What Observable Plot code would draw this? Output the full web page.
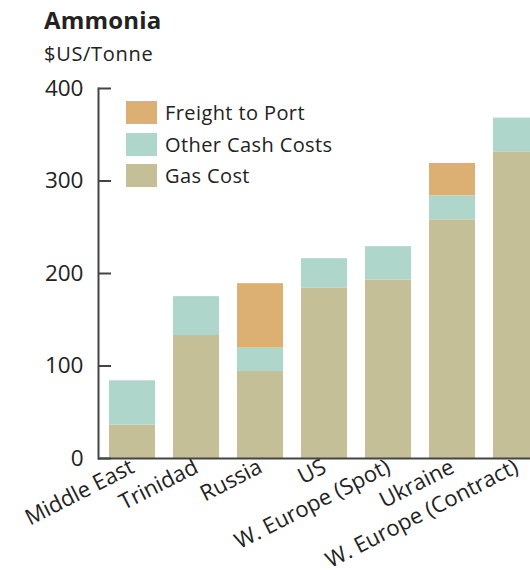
<!DOCTYPE html>
<html>
<head>
<meta charset="utf-8">
<script src="https://cdn.jsdelivr.net/npm/d3@7"></script>
<script src="https://cdn.jsdelivr.net/npm/@observablehq/plot@0.6"></script>
<style>
  html, body { margin: 0; padding: 0; background: #fff; overflow: hidden; }
  #wrap { position: relative; width: 530px; height: 575px; overflow: hidden; font-family: "Open Sans", sans-serif; color: #222; }
  #title { position: absolute; left: 44px; top: 3px; font-size: 24px; font-weight: 700; color: #222; letter-spacing: 0.2px; }
  #subtitle { position: absolute; left: 44px; top: 40px; font-size: 20px; color: #222; letter-spacing: 0.7px; }
  #legend { position: absolute; left: 126px; top: 97px; font-size: 20px; color: #222; letter-spacing: 0.4px; }
  #legend .row { display: flex; align-items: center; height: 31.5px; }
  #legend .sw { width: 31px; height: 23px; margin-right: 8px; }
  #chart { position: absolute; left: 0; top: 0; }
</style>
</head>
<body>
<div id="wrap">
  <div id="chart"></div>
  <div id="title">Ammonia</div>
  <div id="subtitle">$US/Tonne</div>
  <div id="legend"></div>
</div>
<script>
const regions = ["Middle East", "Trinidad", "Russia", "US", "W. Europe (Spot)", "Ukraine", "W. Europe (Contract)"];
const gasCost = [36, 133, 94, 184, 193, 258, 331];
const otherCashCosts = [48, 42, 26, 32, 36, 26, 37];
const freightToPort = [0, 0, 69, 0, 0, 35, 0];
const components = ["Gas Cost", "Other Cash Costs", "Freight to Port"];
const colors = ["#c4bf97", "#afd6cb", "#dcb073"];
const yTicks = [0, 100, 200, 300, 400];
const legendOrder = ["Freight to Port", "Other Cash Costs", "Gas Cost"];

const series = [gasCost, otherCashCosts, freightToPort];
const data = [];
regions.forEach((r, i) => {
  components.forEach((c, j) => {
    data.push({region: r, component: c, value: series[j][i]});
  });
});

const chart = Plot.plot({
  width: 530,
  height: 575,
  marginLeft: 98,
  marginTop: 88,
  marginBottom: 117,
  marginRight: 0,
  style: {fontFamily: "Open Sans, sans-serif", fontSize: "18px", color: "#222", background: "transparent", overflow: "hidden"},
  x: {domain: regions, range: [98, 550], paddingInner: 0.28, paddingOuter: 0.17, label: null},
  y: {domain: [0, 400], label: null},
  color: {domain: components, range: colors},
  marks: [
    Plot.barY(data, {x: "region", y: "value", fill: "component", order: components}),
    Plot.axisY({ticks: yTicks, tickSize: 13, dx: 13, stroke: "#444", strokeWidth: 2, strokeOpacity: 1, tickFormat: () => "", label: null}),
    Plot.axisY({ticks: yTicks, tickSize: 0, tickPadding: 15, fontSize: 22.5, letterSpacing: "0.5px", label: null}),
    Plot.axisX({tickSize: 0, tickRotate: -27, tickPadding: 7, fontSize: 22, letterSpacing: "0.6px", label: null}),
    Plot.frame({anchor: "left", stroke: "#444", strokeWidth: 2}),
    Plot.ruleY([0], {stroke: "#444", strokeWidth: 2})
  ]
});
document.getElementById("chart").appendChild(chart);

const legend = document.getElementById("legend");
legendOrder.forEach(name => {
  const row = document.createElement("div");
  row.className = "row";
  const sw = document.createElement("div");
  sw.className = "sw";
  sw.style.background = colors[components.indexOf(name)];
  const t = document.createElement("span");
  t.textContent = name;
  row.appendChild(sw);
  row.appendChild(t);
  legend.appendChild(row);
});
</script>
</body>
</html>
